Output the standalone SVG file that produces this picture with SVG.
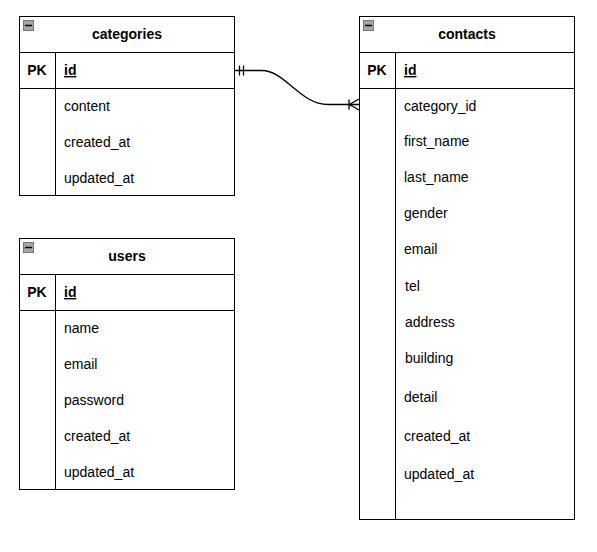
<svg xmlns="http://www.w3.org/2000/svg" width="597" height="552" viewBox="0 0 597 552">
  <style>
    .box { fill: #ffffff; stroke: #000000; stroke-width: 1; }
    .line { stroke: #000000; stroke-width: 1; fill: none; }
    .title { font-family: "Liberation Sans", Arial, sans-serif; font-size: 14px; font-weight: bold; fill: #000000; text-anchor: middle; }
    .pk { font-family: "Liberation Sans", Arial, sans-serif; font-size: 14px; font-weight: bold; fill: #000000; text-anchor: middle; }
    .key { font-family: "Liberation Sans", Arial, sans-serif; font-size: 14px; font-weight: bold; fill: #000000; text-decoration: underline; }
    .field { font-family: "Liberation Sans", Arial, sans-serif; font-size: 14px; fill: #000000; }
    .conn { stroke: #000000; stroke-width: 1.3; fill: none; }
  </style>
  <defs>
    <g id="collapse-icon">
      <rect x="0.5" y="0.5" width="10" height="10" fill="#a6a6a6" stroke="#777777" stroke-width="1"/>
      <line x1="2" y1="5.5" x2="9" y2="5.5" stroke="#000000" stroke-width="1.5"/>
    </g>
  </defs>
  <rect width="597" height="552" fill="#ffffff"/>

  <!-- categories table -->
  <g id="categories">
    <rect class="box" x="19.5" y="16.5" width="215" height="179"/>
    <line class="line" x1="19.5" y1="52.5" x2="234.5" y2="52.5"/>
    <line class="line" x1="19.5" y1="88.5" x2="234.5" y2="88.5"/>
    <line class="line" x1="55.5" y1="52.5" x2="55.5" y2="195.5"/>
    <use href="#collapse-icon" x="23" y="20"/>
    <text class="title" x="127" y="39">categories</text>
    <text class="pk" x="37" y="75">PK</text>
    <text class="key" x="64" y="75">id</text>
    <text class="field" x="64" y="111">content</text>
    <text class="field" x="64" y="147">created_at</text>
    <text class="field" x="64" y="183">updated_at</text>
  </g>

  <!-- users table -->
  <g id="users">
    <rect class="box" x="19.5" y="238.5" width="215" height="251"/>
    <line class="line" x1="19.5" y1="274.5" x2="234.5" y2="274.5"/>
    <line class="line" x1="19.5" y1="310.5" x2="234.5" y2="310.5"/>
    <line class="line" x1="55.5" y1="274.5" x2="55.5" y2="489.5"/>
    <use href="#collapse-icon" x="23" y="242"/>
    <text class="title" x="127" y="261">users</text>
    <text class="pk" x="37" y="297">PK</text>
    <text class="key" x="64" y="297">id</text>
    <text class="field" x="64" y="333">name</text>
    <text class="field" x="64" y="369">email</text>
    <text class="field" x="64" y="405">password</text>
    <text class="field" x="64" y="441">created_at</text>
    <text class="field" x="64" y="477">updated_at</text>
  </g>

  <!-- contacts table -->
  <g id="contacts">
    <rect class="box" x="359.5" y="16.5" width="215" height="503"/>
    <line class="line" x1="359.5" y1="52.5" x2="574.5" y2="52.5"/>
    <line class="line" x1="359.5" y1="88.5" x2="574.5" y2="88.5"/>
    <line class="line" x1="395.5" y1="52.5" x2="395.5" y2="519.5"/>
    <use href="#collapse-icon" x="363" y="20"/>
    <text class="title" x="467" y="39">contacts</text>
    <text class="pk" x="377" y="75">PK</text>
    <text class="key" x="404" y="75">id</text>
    <text class="field" x="404" y="111">category_id</text>
    <text class="field" x="404" y="146">first_name</text>
    <text class="field" x="404" y="182">last_name</text>
    <text class="field" x="404" y="218">gender</text>
    <text class="field" x="404" y="254">email</text>
    <text class="field" x="405" y="291">tel</text>
    <text class="field" x="405" y="327">address</text>
    <text class="field" x="405" y="363">building</text>
    <text class="field" x="404" y="402">detail</text>
    <text class="field" x="404" y="441">created_at</text>
    <text class="field" x="404" y="479">updated_at</text>
  </g>

  <!-- relationship: categories.id (one) to contacts.category_id (many) -->
  <g id="connectors">
    <path class="conn" d="M235 70.5 L262 70.5 C285 70.5 300 104.5 328 104.5 L359 104.5"/>
    <!-- mandatory-one marks -->
    <line class="conn" x1="239.5" y1="65.5" x2="239.5" y2="75.5"/>
    <line class="conn" x1="243.5" y1="65.5" x2="243.5" y2="75.5"/>
    <!-- one-or-many crow's foot -->
    <line class="conn" x1="349" y1="99.5" x2="349" y2="109.5"/>
    <path class="conn" d="M359 99 L349.5 104.5 L359 110"/>
  </g>
</svg>
